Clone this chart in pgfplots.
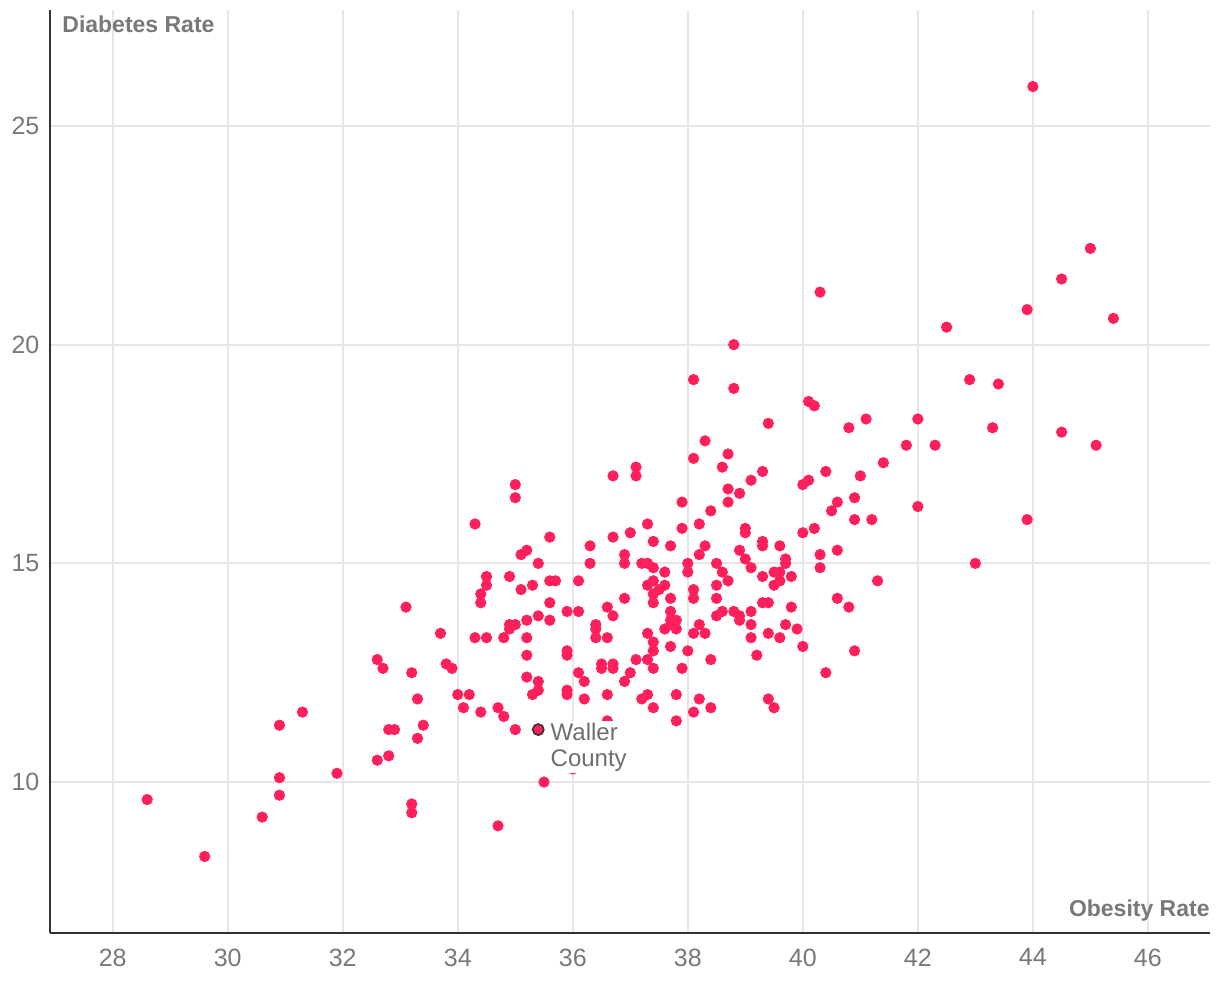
\documentclass[border=0pt]{standalone}
\usepackage{fontspec}
\setmainfont{Liberation Sans}
\usepackage{pgfplots}
\pgfplotsset{compat=1.18}
\definecolor{dot}{RGB}{255,31,91}
\definecolor{gridgray}{RGB}{230,230,230}
\definecolor{axisdark}{RGB}{51,51,51}
\definecolor{labelgray}{RGB}{120,120,120}
\definecolor{notegray}{RGB}{110,110,110}

% obesity rate, diabetes rate (one row per county)
\pgfplotstableread{
x y
28.6 9.6
29.6 8.3
30.6 9.2
30.9 11.3
30.9 10.1
30.9 9.7
31.3 11.6
31.9 10.2
32.6 12.8
32.7 12.6
32.6 10.5
32.8 11.2
32.9 11.2
32.8 10.6
33.1 14.0
33.2 12.5
33.2 9.5
33.2 9.3
33.3 11.9
33.3 11.0
33.4 11.3
33.7 13.4
33.8 12.7
33.9 12.6
34.0 12.0
34.1 11.7
34.2 12.0
35.0 16.8
35.0 16.5
34.3 15.9
35.6 15.6
35.2 15.3
35.1 15.2
35.4 15.0
36.3 15.4
36.3 15.0
36.7 17.0
36.7 15.6
34.5 14.7
34.5 14.5
34.4 14.3
34.4 14.1
34.9 14.7
35.1 14.4
35.3 14.5
35.6 14.6
35.7 14.6
36.1 14.6
35.6 14.1
38.1 17.4
38.7 17.5
37.1 17.2
37.1 17.0
38.6 17.2
39.3 17.1
39.1 16.9
38.7 16.7
38.9 16.6
38.7 16.4
37.9 16.4
38.4 16.2
37.9 15.8
38.2 15.9
37.3 15.9
37.0 15.7
37.4 15.5
37.7 15.4
38.3 15.4
38.2 15.2
39.0 15.8
39.0 15.7
39.3 15.5
39.3 15.4
38.9 15.3
39.0 15.1
39.1 14.9
39.3 14.7
36.9 15.2
36.9 15.0
37.2 15.0
37.3 15.0
37.4 14.9
37.6 14.8
37.3 14.5
37.4 14.6
37.5 14.4
37.6 14.5
37.4 14.3
36.9 14.2
37.7 14.2
38.0 15.0
38.0 14.8
38.5 15.0
38.6 14.8
38.7 14.6
38.5 14.5
38.1 14.4
38.1 14.2
38.5 14.2
40.1 18.7
40.2 18.6
39.4 18.2
40.8 18.1
41.1 18.3
42.0 18.3
41.8 17.7
42.3 17.7
41.4 17.3
40.4 17.1
40.0 16.8
40.1 16.9
41.0 17.0
40.9 16.5
40.6 16.4
40.5 16.2
40.9 16.0
41.2 16.0
42.0 16.3
40.2 15.8
40.0 15.7
39.6 15.4
39.7 15.1
39.7 15.0
40.3 15.2
40.6 15.3
40.3 14.9
39.5 14.8
39.6 14.8
39.8 14.7
41.3 14.6
40.6 14.2
40.8 14.0
39.5 14.5
39.6 14.6
39.3 14.1
39.4 14.1
39.8 14.0
39.7 13.6
39.9 13.5
39.4 13.4
39.6 13.3
40.0 13.1
40.9 13.0
39.2 12.9
40.4 12.5
39.4 11.9
39.5 11.7
35.4 13.8
35.2 13.7
35.6 13.7
35.9 13.9
36.1 13.9
34.9 13.6
35.0 13.6
34.9 13.5
34.3 13.3
34.5 13.3
34.8 13.3
35.2 13.3
35.2 12.9
35.9 13.0
35.9 12.9
36.4 13.6
36.4 13.5
36.4 13.3
36.6 14.0
36.6 13.3
36.1 12.5
35.2 12.4
35.4 12.3
36.2 12.3
36.5 12.7
36.5 12.6
35.4 12.1
35.3 12.0
35.9 12.1
35.9 12.0
36.2 11.9
36.6 12.0
34.4 11.6
34.7 11.7
34.8 11.5
35.0 11.2
35.5 10.0
36.0 10.3
36.4 10.9
36.6 11.4
34.7 9.0
37.4 14.1
36.7 13.8
37.7 13.9
37.7 13.7
37.8 13.7
37.7 13.6
37.6 13.5
37.8 13.5
37.3 13.4
37.4 13.2
37.4 13.0
37.7 13.1
38.0 13.0
38.2 13.6
38.1 13.4
38.3 13.4
38.5 13.8
38.6 13.9
38.8 13.9
38.9 13.8
38.9 13.7
39.1 13.9
39.1 13.6
39.1 13.3
38.4 12.8
36.7 12.7
36.7 12.6
37.1 12.8
37.3 12.8
37.0 12.5
36.9 12.3
37.4 12.6
37.9 12.6
37.2 11.9
37.3 12.0
37.4 11.7
37.8 12.0
37.8 11.4
38.2 11.9
38.1 11.6
38.4 11.7
45.0 22.2
44.5 21.5
43.9 20.8
45.4 20.6
42.5 20.4
42.9 19.2
43.4 19.1
43.3 18.1
44.5 18.0
45.1 17.7
43.9 16.0
43.0 15.0
44.0 25.9
40.3 21.2
38.8 20.0
38.1 19.2
38.8 19.0
38.3 17.8
}\counties

\begin{document}
\begin{tikzpicture}
\path[use as bounding box] (0,0) rectangle (610pt,503pt);
\begin{axis}[
  at={(25pt,36.5pt)}, anchor=south west,
  width=580pt, height=461.5pt, scale only axis,
  xmin=26.91, xmax=47.08, ymin=6.55, ymax=27.65,
  axis x line*=bottom, axis y line*=left,
  axis line style={axisdark, line width=1pt, -},
  xtick={28,30,...,46}, ytick={10,15,20,25},
  grid=major, major grid style={gridgray, line width=1pt},
  major tick length=0pt,
  tick label style={font=\fontsize{12.5}{14}\selectfont, text=labelgray},
  /pgf/number format/assume math mode=true,
  xticklabel shift=4.3pt, yticklabel shift=1.8pt,
  clip=false,
]
\addplot[only marks, mark=*, mark size=2.6pt, color=dot, mark options={draw=none, fill=dot}] table[x=x, y=y] {\counties};

\addplot[only marks, mark=*, mark size=2.8pt,
  mark options={fill=dot, draw=axisdark, line width=0.8pt}] coordinates {(35.4,11.2)};

\coordinate (waller) at (axis cs:35.4,11.2);

\node[anchor=base west, inner sep=0pt, text=labelgray, font=\bfseries\fontsize{11.5}{13}\selectfont,
  xshift=6pt, yshift=-11.5pt] at (rel axis cs:0,1) {Diabetes Rate};
\node[anchor=base east, inner sep=0pt, text=labelgray, font=\bfseries\fontsize{11.5}{13}\selectfont,
  yshift=8pt] at (rel axis cs:1,0) {Obesity Rate};
\end{axis}
% label drawn after the axis so that its white halo covers the dots beneath it
\node[anchor=north west, align=left, fill=white, inner sep=1pt, text=notegray,
  font=\fontsize{12}{13}\selectfont, xshift=5pt, yshift=4.5pt] at (waller) {Waller\\County};
\end{tikzpicture}
\end{document}
